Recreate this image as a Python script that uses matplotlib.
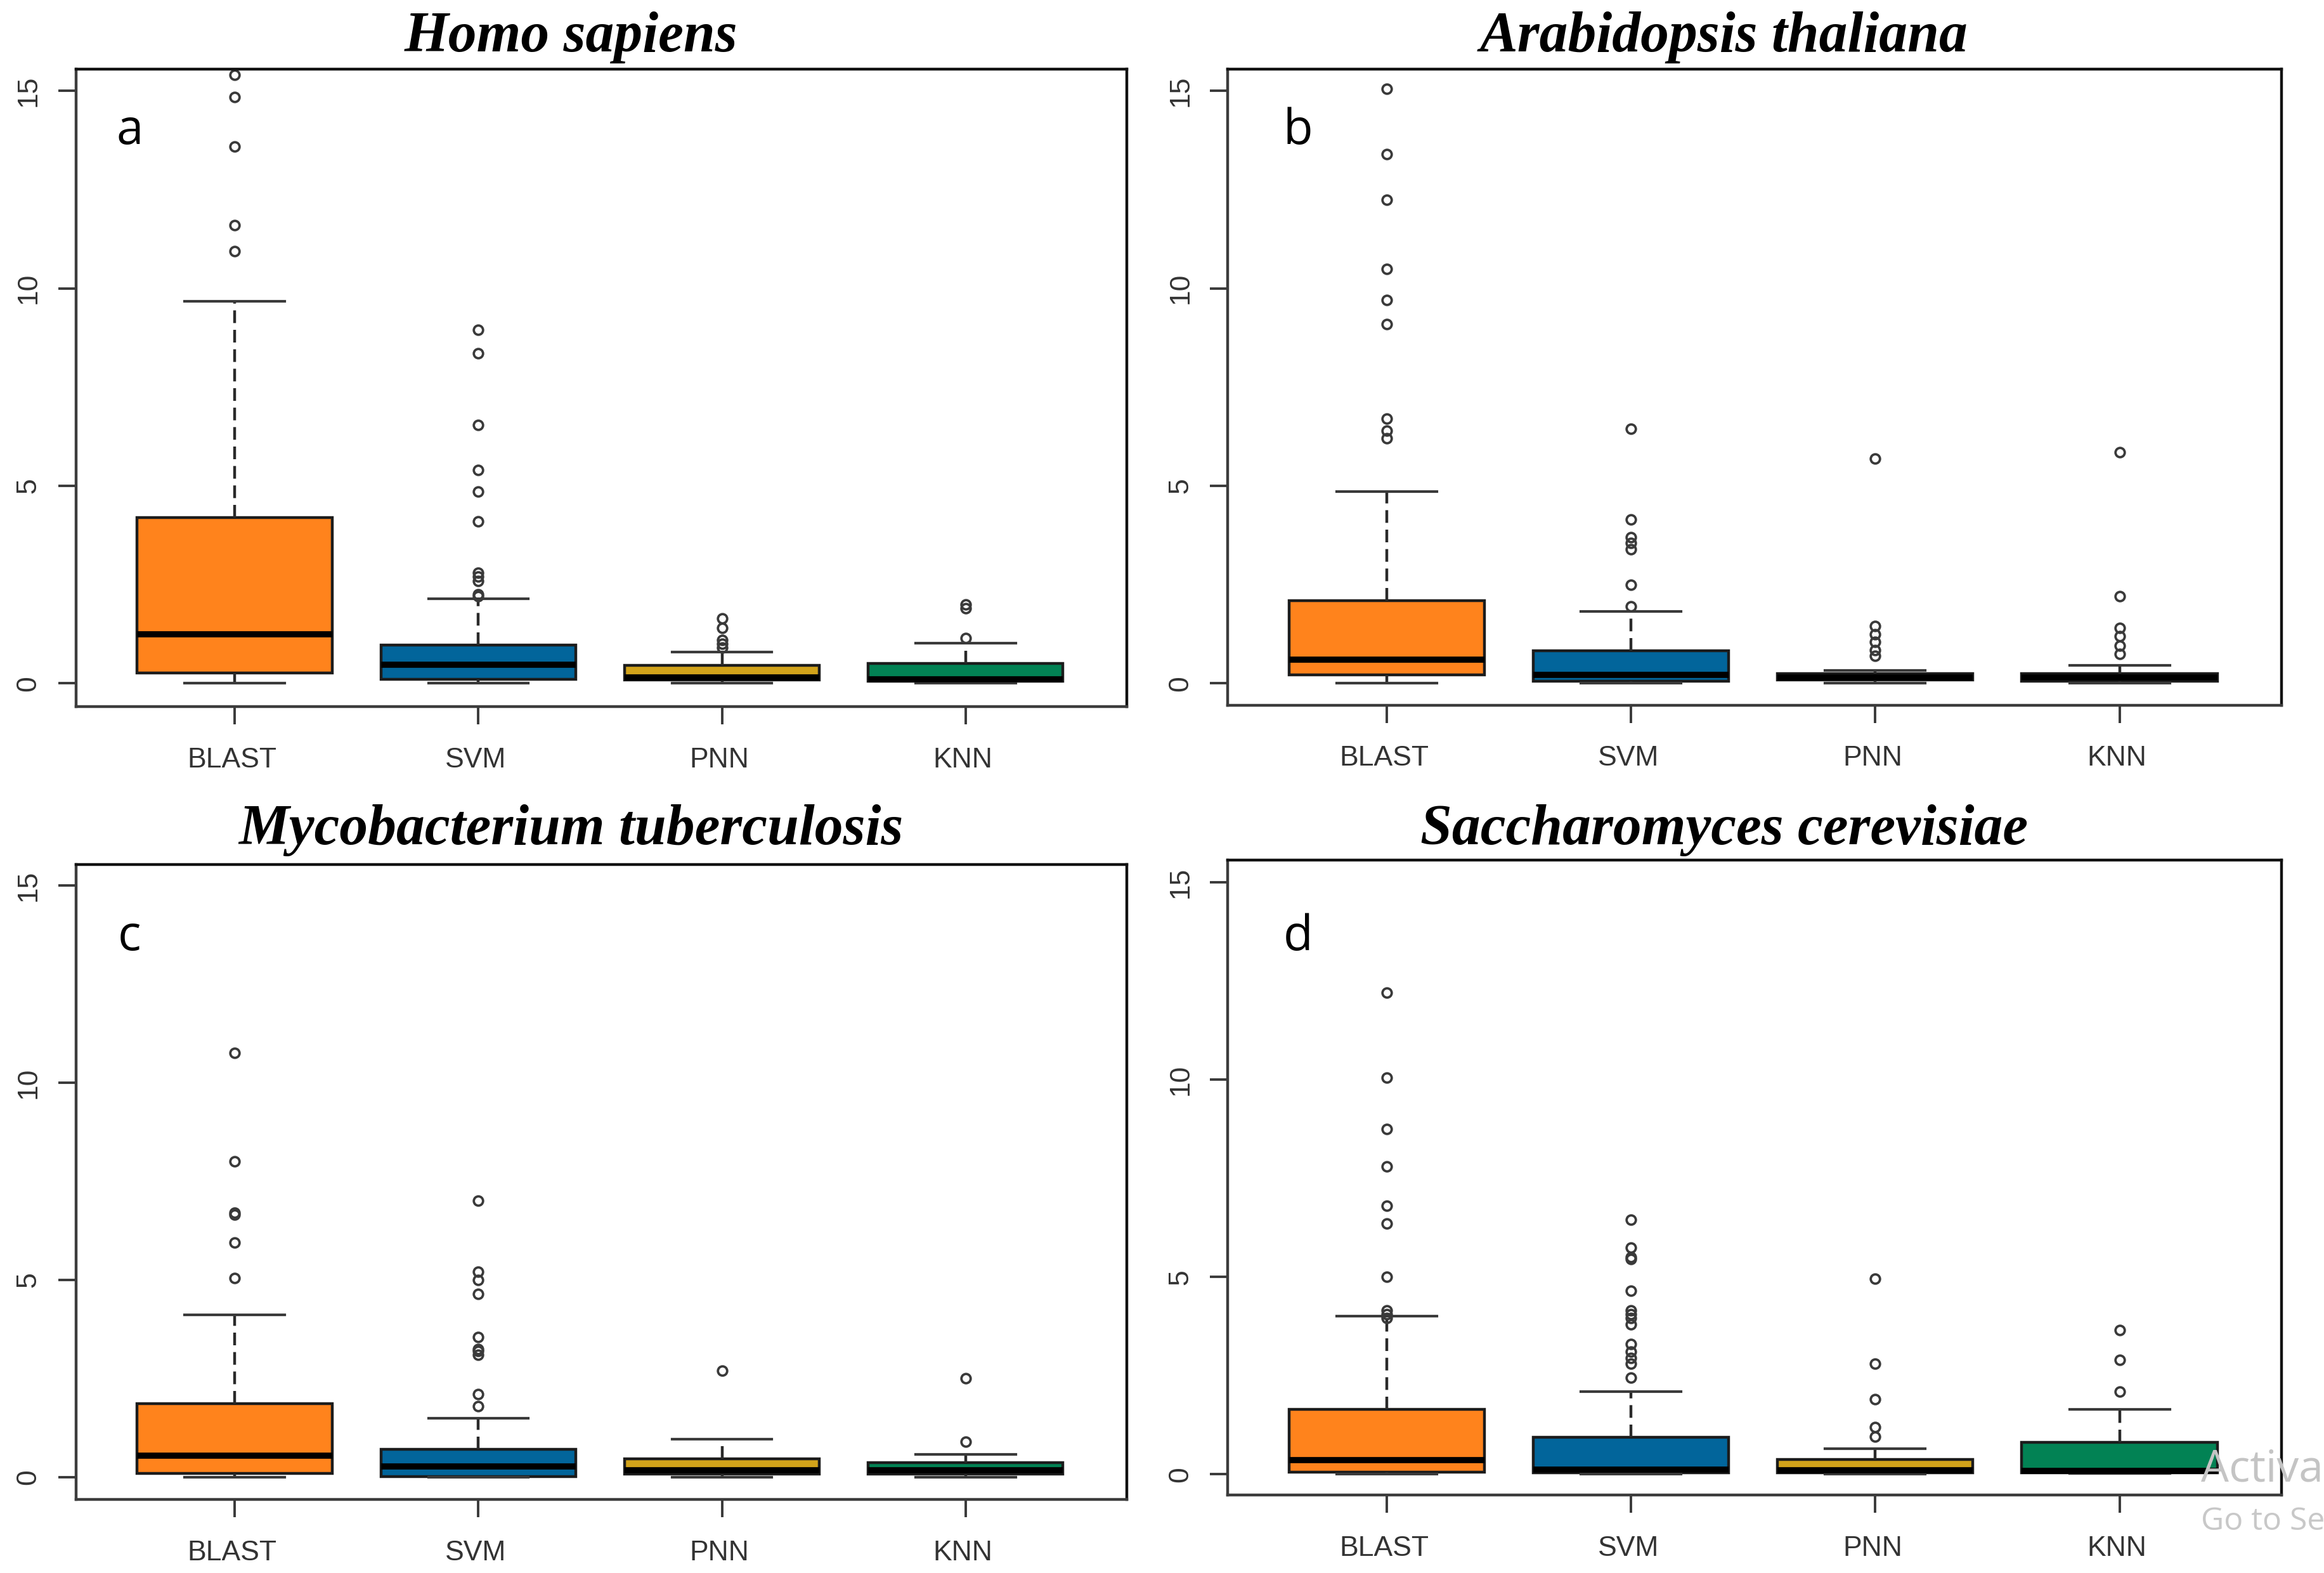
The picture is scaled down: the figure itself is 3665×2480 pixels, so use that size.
import matplotlib
matplotlib.use("Agg")
import matplotlib.pyplot as plt
from matplotlib.transforms import ScaledTranslation

methods = ["BLAST", "SVM", "PNN", "KNN"]
box_colors = ["#FF831C", "#02659B", "#D2A31A", "#028254"]
species = ["Homo sapiens", "Arabidopsis thaliana", "Mycobacterium tuberculosis", "Saccharomyces cerevisiae"]
letters = ["a", "b", "c", "d"]
y_ticks = [0, 5, 10, 15]

# each list: BLAST, SVM, PNN, KNN
a_low = [0, 0, 0, 0]
a_q1 = [0.27, 0.10, 0.08, 0.06]
a_med = [1.25, 0.47, 0.15, 0.10]
a_q3 = [4.20, 0.97, 0.45, 0.50]
a_high = [9.67, 2.15, 0.80, 1.02]
a_out = [[10.95, 11.6, 13.6, 14.85, 15.4],
         [2.2, 2.25, 2.6, 2.7, 2.8, 4.1, 4.85, 5.4, 6.55, 8.35, 8.95],
         [0.9, 1.0, 1.1, 1.4, 1.65],
         [1.15, 1.9, 2.0]]

b_low = [0, 0, 0, 0]
b_q1 = [0.22, 0.05, 0.08, 0.05]
b_med = [0.60, 0.22, 0.15, 0.15]
b_q3 = [2.10, 0.82, 0.25, 0.25]
b_high = [4.85, 1.82, 0.33, 0.45]
b_out = [[6.2, 6.4, 6.7, 9.1, 9.7, 10.5, 12.25, 13.4, 15.05],
         [1.95, 2.5, 3.4, 3.55, 3.7, 4.15, 6.45],
         [0.7, 0.85, 1.05, 1.25, 1.45, 5.7],
         [0.75, 0.95, 1.2, 1.4, 2.2, 5.85]]

c_low = [0, 0, 0, 0]
c_q1 = [0.10, 0.02, 0.07, 0.08]
c_med = [0.55, 0.27, 0.17, 0.18]
c_q3 = [1.87, 0.70, 0.47, 0.37]
c_high = [4.12, 1.50, 0.97, 0.57]
c_out = [[5.05, 5.95, 6.65, 6.7, 8.0, 10.75],
         [1.8, 2.1, 3.1, 3.2, 3.25, 3.55, 4.65, 5.0, 5.2, 7.0],
         [2.7],
         [0.9, 2.5]]

d_low = [0, 0, 0, 0.02]
d_q1 = [0.05, 0.03, 0.03, 0.03]
d_med = [0.35, 0.12, 0.10, 0.08]
d_q3 = [1.65, 0.93, 0.37, 0.80]
d_high = [4.0, 2.10, 0.65, 1.65]
d_out = [[3.95, 4.05, 4.15, 5.0, 6.35, 6.8, 7.8, 8.75, 10.05, 12.2],
         [2.45, 2.8, 2.95, 3.1, 3.3, 3.8, 3.95, 4.05, 4.15, 4.65, 5.45, 5.5, 5.75, 6.45],
         [0.95, 1.2, 1.9, 2.8, 4.95],
         [2.1, 2.9, 3.65]]

panels = [(a_low, a_q1, a_med, a_q3, a_high, a_out),
          (b_low, b_q1, b_med, b_q3, b_high, b_out),
          (c_low, c_q1, c_med, c_q3, c_high, c_out),
          (d_low, d_q1, d_med, d_q3, d_high, d_out)]

W, H = 3666, 2480
S = W / 1560.0
# left, right, top, bottom, pixel of y=0, pixel of y=15 (in 1560-wide coordinates)
frames = [(51, 756, 46.5, 474, 458.5, 61),
          (824, 1531, 46.5, 473, 458.5, 61),
          (51, 756, 580, 1006, 991, 594),
          (824, 1531, 577, 1003, 989, 592)]
title_xy = [(383, 25), (1157, 25), (383, 557), (1157, 557)]
letter_xy = [(87, 88), (871, 88), (87, 629), (871, 629)]

INK = "#3a3a3a"
fig = plt.figure(figsize=(W / 100, H / 100), dpi=100, facecolor="white")

for i, (low, q1, med, q3, high, out) in enumerate(panels):
    l, r, t, b, y0, y15 = frames[i]
    ax = fig.add_axes([l * S / W, 1 - b * S / H, (r - l) * S / W, (b - t) * S / H])
    stats = [dict(whislo=low[k], q1=q1[k], med=med[k], q3=q3[k], whishi=high[k], fliers=out[k])
             for k in range(len(methods))]
    art = ax.bxp(stats, positions=[1, 2, 3, 4], widths=0.8, patch_artist=True,
                 boxprops=dict(edgecolor="#1c1c1c", linewidth=3.2),
                 medianprops=dict(color="black", linewidth=7, solid_capstyle="butt"),
                 whiskerprops=dict(color="#2a2a2a", linewidth=3.2, linestyle=(0, (4.5, 2.4))),
                 capprops=dict(color=INK, linewidth=3),
                 capwidths=0.41,
                 flierprops=dict(marker="o", markerfacecolor="none", markeredgecolor=INK,
                                 markersize=10.5, markeredgewidth=2.7))
    for patch, col in zip(art["boxes"], box_colors):
        patch.set_facecolor(col)
    unit = (y0 - y15) / 15.0
    ax.set_ylim((y0 - b) / unit, (y0 - t) / unit)
    step = 163.5 * (r - l) / 705.0
    ax.set_xlim(1 + (l - (l + 106.5)) / step, 1 + (r - (l + 106.5)) / step)

    ax.set_xticks([1, 2, 3, 4])
    ax.set_xticklabels(methods)
    ax.set_yticks(y_ticks)
    ax.tick_params(axis="x", length=20, width=2.8, color=INK, labelcolor="#333333",
                   labelsize=32, pad=26)
    ax.tick_params(axis="y", length=20, width=2.8, color=INK, labelcolor="#333333",
                   labelsize=32, pad=19)
    shift = ScaledTranslation(-3 / 72, 0, fig.dpi_scale_trans)
    for lab in ax.get_xticklabels():
        lab.set_fontfamily("Liberation Sans")
        lab.set_transform(lab.get_transform() + shift)
    for lab in ax.get_yticklabels():
        lab.set_fontfamily("Liberation Sans")
        lab.set_rotation(90)
        lab.set_va("center")
    for side, spine in ax.spines.items():
        spine.set_linewidth(3.2)
        spine.set_color("#111111" if side in ("top", "right") else "#3c3c3c")

    tx, ty = title_xy[i]
    fig.text(tx * S / W, 1 - ty * S / H, species[i], family="Liberation Serif",
             style="italic", weight="bold", fontsize=64.5, color="black",
             ha="center", va="center")
    lx, ly = letter_xy[i]
    fig.text(lx * S / W, 1 - ly * S / H, letters[i], family="Open Sans", fontsize=55,
             color="black", ha="center", va="center")

fig.text(1477 * S / W, 1 - 986 * S / H, "Activa", family="Open Sans", fontsize=50,
         color="#c4c4c4", ha="left", va="center", zorder=10)
fig.text(1477 * S / W, 1 - 1021 * S / H, "Go to Se", family="Open Sans", fontsize=36,
         color="#c8c8c8", ha="left", va="center", zorder=10)

fig.savefig("out.png", dpi=100, facecolor="white")
